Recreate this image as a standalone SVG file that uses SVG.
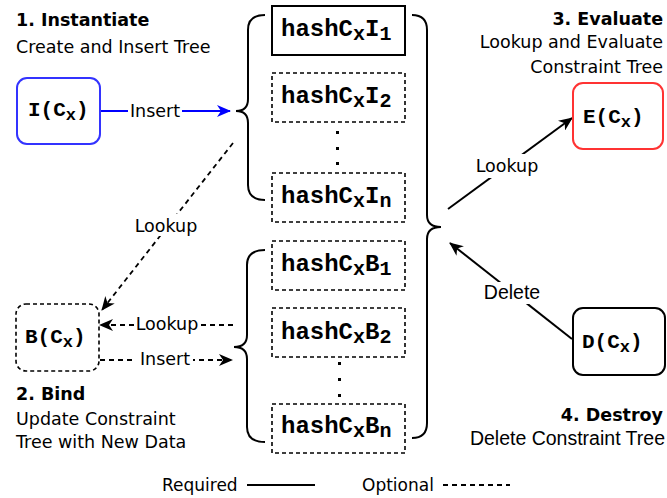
<svg xmlns="http://www.w3.org/2000/svg" width="667" height="498" viewBox="0 0 667 498">
<style>
.t{font-family:"DejaVu Sans",Verdana,sans-serif;font-size:17.5px;fill:#000}
.lg{font-family:"DejaVu Sans",Verdana,sans-serif;font-size:17px;fill:#000}
.b{font-family:"DejaVu Sans",Verdana,sans-serif;font-size:17.5px;font-weight:bold;fill:#000}
.h{font-family:"Liberation Sans",Arial,sans-serif;font-size:19.5px;fill:#000}
.m{font-family:"Liberation Mono","Courier New",monospace;font-weight:bold;fill:#000}
.hs{font-size:24px}
.ns{font-size:21px}
.solid{fill:#fff;stroke:#000;stroke-width:2}
.dash{fill:#fff;stroke:#000;stroke-width:1.6;stroke-dasharray:4 3}
.line{fill:none;stroke:#000;stroke-width:2}
.dl{fill:none;stroke:#000;stroke-width:1.8;stroke-dasharray:5 4}
.brace{fill:none;stroke:#000;stroke-width:2}
.dot{fill:#000}
.bg{fill:#fff}
</style>
<defs>
<marker id="ak" viewBox="0 0 14 12" refX="13" refY="6" markerWidth="14" markerHeight="12" orient="auto" markerUnits="userSpaceOnUse"><path d="M0,0 L14,6 L0,12 L4,6 Z" fill="#000"/></marker>
<marker id="ab" viewBox="0 0 14 12" refX="13" refY="6" markerWidth="14" markerHeight="12" orient="auto" markerUnits="userSpaceOnUse"><path d="M0,0 L14,6 L0,12 L4,6 Z" fill="#0000ff"/></marker>
</defs>
<rect width="667" height="498" fill="#fff"/>

<g id="headings">
<text class="b" x="16" y="26">1. Instantiate</text>
<text class="t" x="16" y="53">Create and Insert Tree</text>
<text class="b" x="663" y="25" text-anchor="end">3. Evaluate</text>
<text class="t" x="663" y="48" text-anchor="end">Lookup and Evaluate</text>
<text class="t" x="663" y="73" text-anchor="end">Constraint Tree</text>
<text class="b" x="16" y="400">2. Bind</text>
<text class="t" x="16" y="425">Update Constraint</text>
<text class="t" x="16" y="448">Tree with New Data</text>
<text class="b" x="663" y="421" text-anchor="end">4. Destroy</text>
<text class="h" x="665" y="445" text-anchor="end">Delete Constraint Tree</text>
</g>

<g id="braces">
<path class="brace" d="M265,15 Q248,15 248,30 L248,99 Q248,111 236,111 Q248,111 248,123 L248,185 Q248,200 265,200"/>
<path class="brace" d="M265,250 Q247,250 247,265 L247,335 Q247,347 234,347 Q247,347 247,359 L247,427 Q247,442 265,442"/>
<path class="brace" d="M412,15 Q427,15 427,30 L427,215 Q427,227 441,227 Q427,227 427,239 L427,423 Q427,438 412,438"/>
</g>

<g id="connectors">
<line x1="101" y1="111" x2="230" y2="111" stroke="#0000ff" stroke-width="2" marker-end="url(#ab)"/>
<rect class="bg" x="128" y="100" width="54" height="22"/>
<text class="t" x="155" y="117" text-anchor="middle">Insert</text>

<line class="dl" x1="233" y1="143" x2="102" y2="310" marker-end="url(#ak)"/>
<rect class="bg" x="134" y="214" width="64" height="22"/>
<text class="t" x="166" y="232" text-anchor="middle">Lookup</text>

<line class="dl" x1="233" y1="325" x2="100" y2="325" marker-end="url(#ak)"/>
<rect class="bg" x="136" y="314" width="63" height="22"/>
<text class="t" x="167" y="330" text-anchor="middle">Lookup</text>

<line class="dl" x1="100" y1="360" x2="232" y2="360" marker-end="url(#ak)"/>
<rect class="bg" x="136" y="348" width="57" height="22"/>
<text class="t" x="165" y="365" text-anchor="middle">Insert</text>

<line class="line" x1="448" y1="209" x2="572" y2="118" marker-end="url(#ak)"/>
<rect class="bg" x="474" y="154" width="66" height="24"/>
<text class="t" x="507" y="172" text-anchor="middle">Lookup</text>

<line class="line" x1="572" y1="339" x2="450" y2="243" marker-end="url(#ak)"/>
<rect class="bg" x="483" y="282" width="59" height="22"/>
<text class="h" x="512" y="299" text-anchor="middle">Delete</text>
</g>

<g id="node-I">
<rect x="17" y="78" width="83" height="66" rx="10" fill="#fff" stroke="#3333ff" stroke-width="2"/>
<text class="m ns" x="28" y="116">I(C<tspan font-size="17" dy="4">x</tspan><tspan dy="-4">)</tspan></text>
</g>
<g id="node-B">
<rect class="dash" x="16" y="304" width="83" height="67" rx="10"/>
<text class="m ns" x="25" y="343">B(C<tspan font-size="17" dy="4">x</tspan><tspan dy="-4">)</tspan></text>
</g>
<g id="node-E">
<rect x="573" y="83" width="90" height="66" rx="10" fill="#fff" stroke="#ff3333" stroke-width="2"/>
<text class="m ns" x="583" y="123">E(C<tspan font-size="17" dy="4">x</tspan><tspan dy="-4">)</tspan></text>
</g>
<g id="node-D">
<rect class="solid" x="573" y="308" width="92" height="67" rx="10"/>
<text class="m ns" x="582" y="348">D(C<tspan font-size="17" dy="4">x</tspan><tspan dy="-4">)</tspan></text>
</g>

<g id="hash-I1">
<rect class="solid" x="272" y="6" width="133" height="49"/>
<text class="m hs" x="281" y="36">hashC<tspan font-size="20" dy="4">x</tspan><tspan dy="-4">I</tspan><tspan font-size="20" dy="4">1</tspan></text>
</g>
<g id="hash-I2">
<rect class="dash" x="272" y="73" width="133" height="49"/>
<text class="m hs" x="281" y="103">hashC<tspan font-size="20" dy="4">x</tspan><tspan dy="-4">I</tspan><tspan font-size="20" dy="4">2</tspan></text>
</g>
<g id="dots-I">
<rect class="dot" x="336" y="131" width="3" height="3"/>
<rect class="dot" x="336" y="147" width="3" height="3"/>
<rect class="dot" x="336" y="162" width="3" height="3"/>
</g>
<g id="hash-In">
<rect class="dash" x="272" y="173" width="133" height="49"/>
<text class="m hs" x="281" y="203">hashC<tspan font-size="20" dy="4">x</tspan><tspan dy="-4">I</tspan><tspan font-size="20" dy="4">n</tspan></text>
</g>
<g id="hash-B1">
<rect class="dash" x="272" y="241" width="133" height="49"/>
<text class="m hs" x="281" y="271">hashC<tspan font-size="20" dy="4">x</tspan><tspan dy="-4">B</tspan><tspan font-size="20" dy="4">1</tspan></text>
</g>
<g id="hash-B2">
<rect class="dash" x="272" y="308" width="133" height="49"/>
<text class="m hs" x="281" y="339">hashC<tspan font-size="20" dy="4">x</tspan><tspan dy="-4">B</tspan><tspan font-size="20" dy="4">2</tspan></text>
</g>
<g id="dots-B">
<rect class="dot" x="338" y="362" width="3" height="3"/>
<rect class="dot" x="338" y="378" width="3" height="3"/>
<rect class="dot" x="338" y="394" width="3" height="3"/>
</g>
<g id="hash-Bn">
<rect class="dash" x="272" y="404" width="133" height="49"/>
<text class="m hs" x="281" y="433">hashC<tspan font-size="20" dy="4">x</tspan><tspan dy="-4">B</tspan><tspan font-size="20" dy="4">n</tspan></text>
</g>

<g id="legend">
<text class="lg" x="162" y="491">Required</text>
<line x1="247" y1="485" x2="315" y2="485" stroke="#000" stroke-width="1.8"/>
<text class="lg" x="362" y="491">Optional</text>
<line x1="443" y1="485" x2="510" y2="485" stroke="#000" stroke-width="1.8" stroke-dasharray="5 4"/>
</g>
</svg>
